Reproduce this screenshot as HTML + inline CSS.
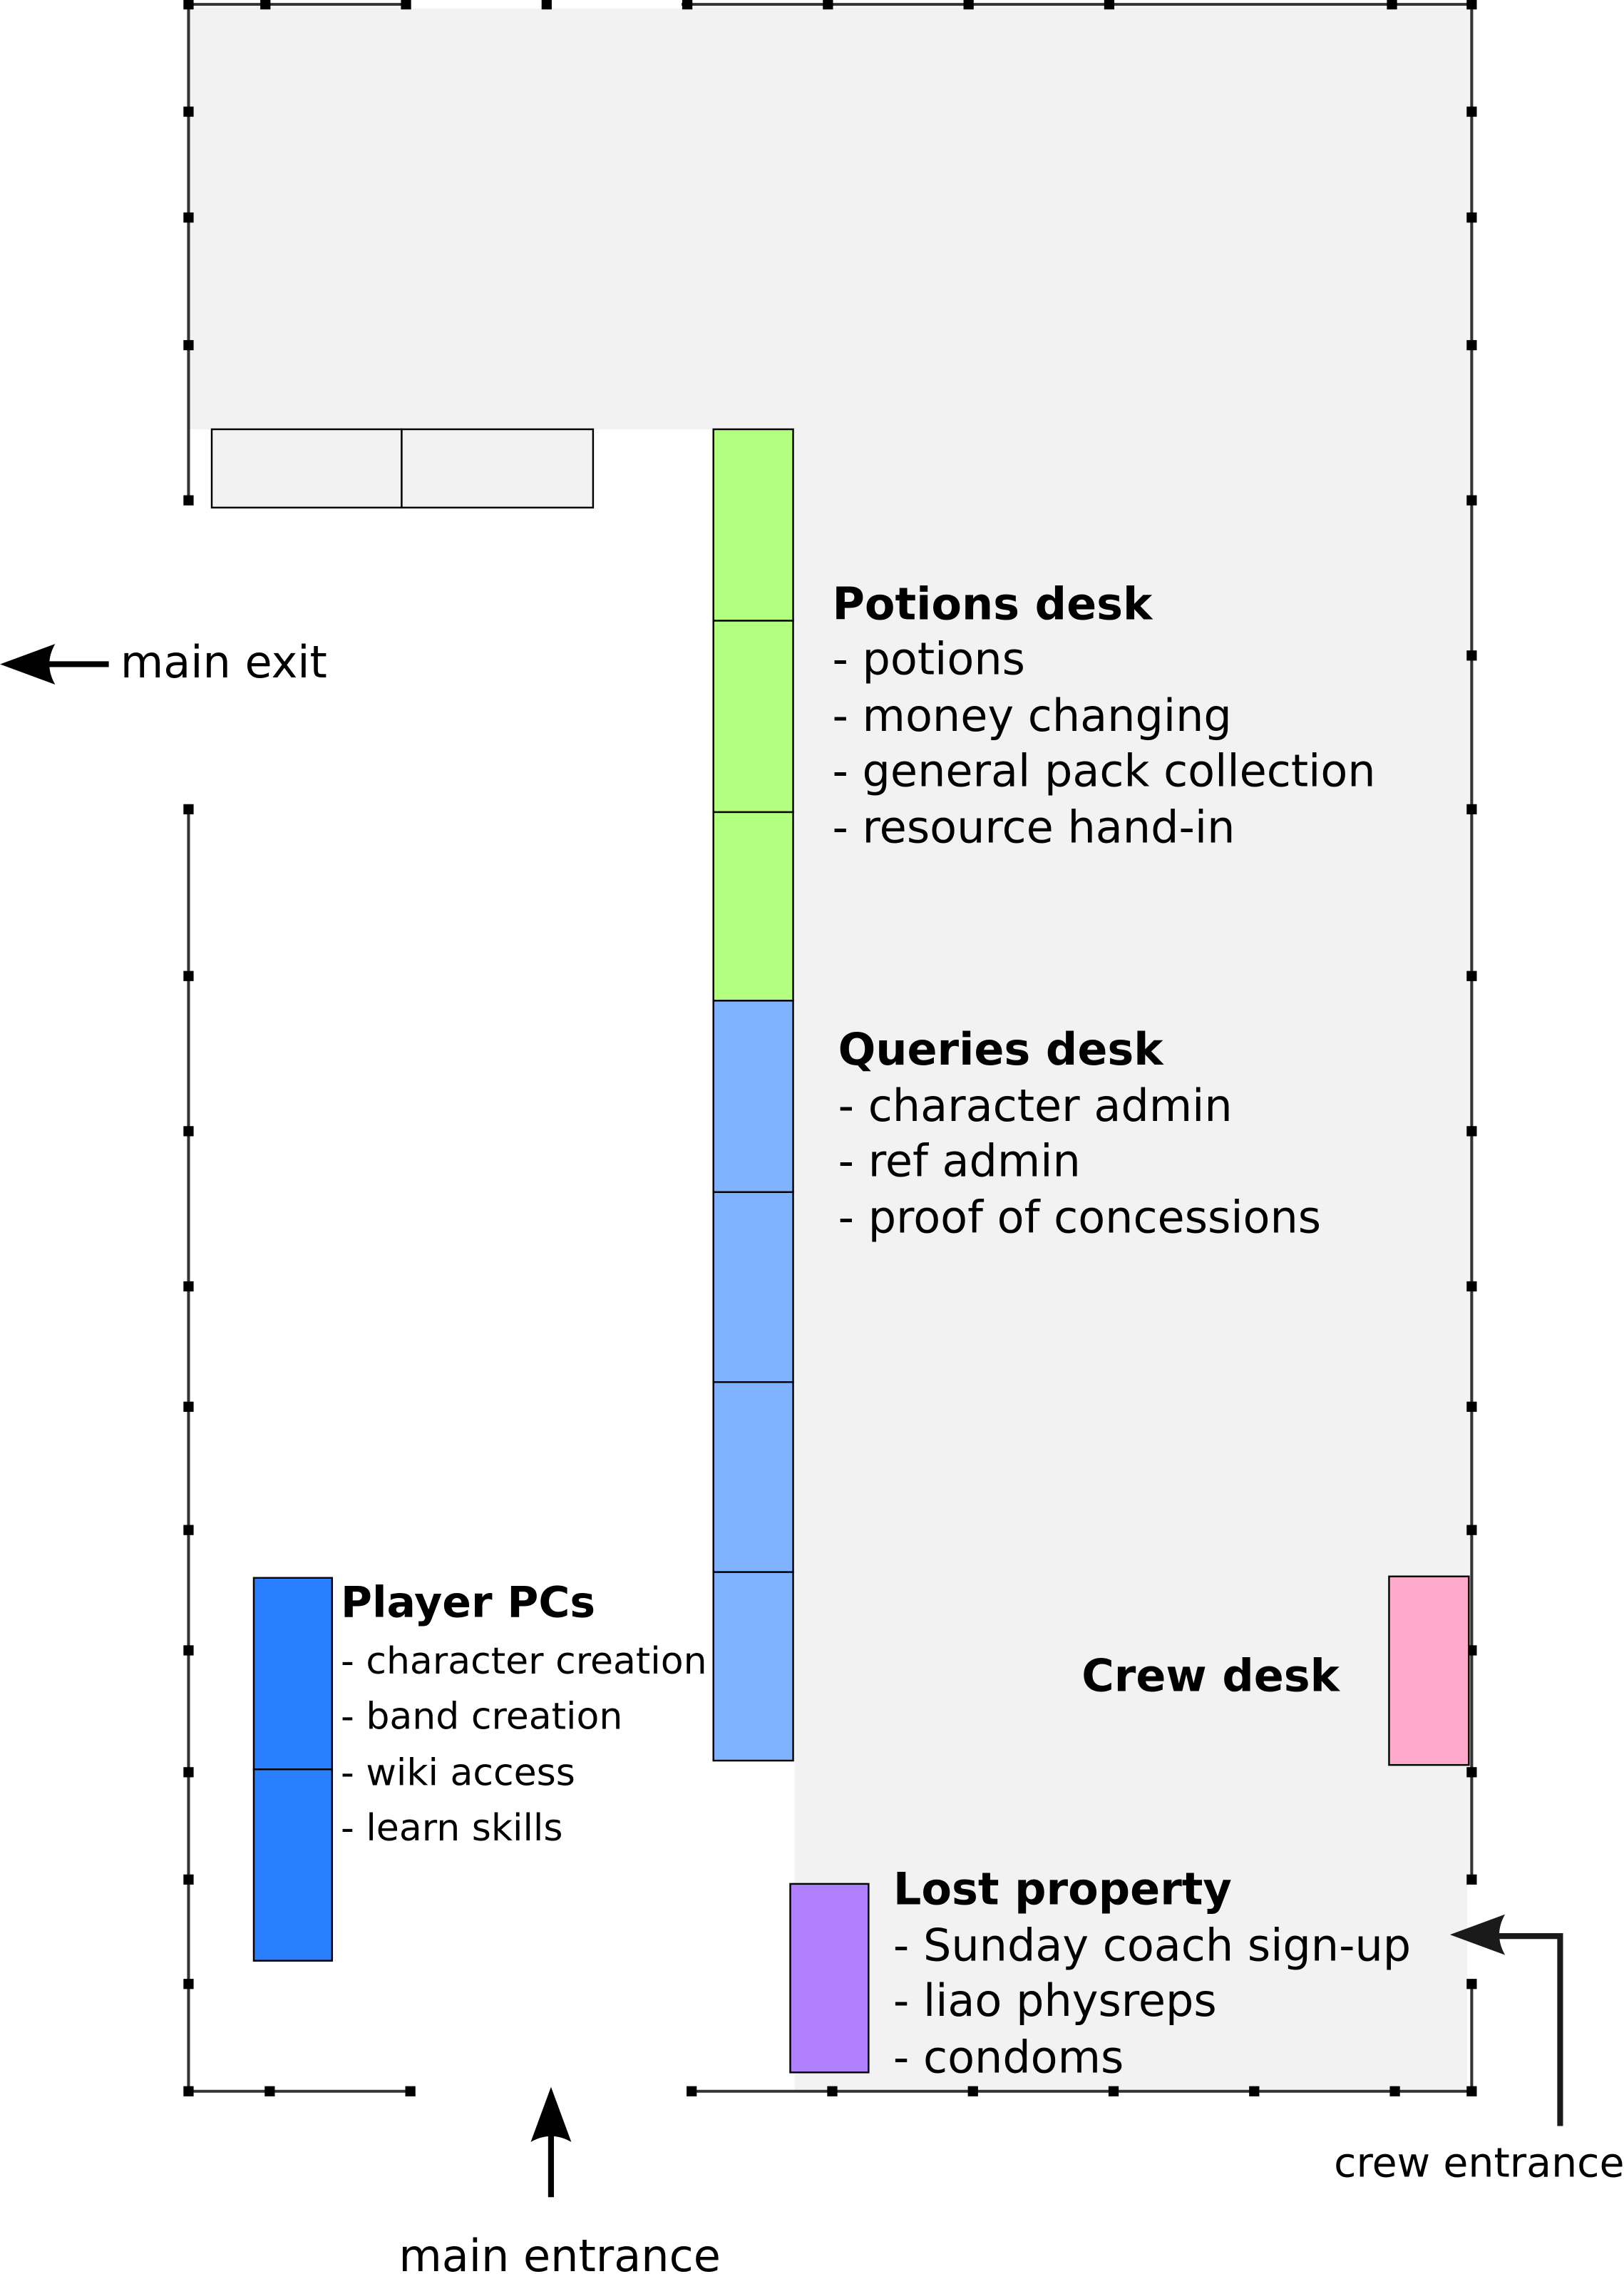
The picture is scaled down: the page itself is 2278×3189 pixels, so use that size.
<!DOCTYPE html>
<html><head><meta charset="utf-8"><style>
html,body{margin:0;padding:0;background:#fff;}
svg{display:block;}
text{font-family:"DejaVu Sans","Liberation Sans",sans-serif;fill:#000;}
</style></head><body>
<svg width="2278" height="3189" viewBox="0 0 1120 1568" xmlns="http://www.w3.org/2000/svg">
<polygon points="130,5 1015,5 1015,1296 1012,1296 1012,1442 548,1442 548,296 130,296" fill="#f2f2f2"/>
<g stroke="#333" stroke-width="2" fill="none">
<path d="M130,3 H1015 V1296 M1015,1368 V1442 H477 M283,1442 H130 V558 M130,345 V3"/>
</g>
<rect x="280" y="1" width="190" height="5" fill="#fff"/>
<g fill="#000">
<rect x="126.5" y="-0.5" width="7" height="7"/><rect x="179.5" y="-0.5" width="7" height="7"/><rect x="276.5" y="-0.5" width="7" height="7"/><rect x="373.5" y="-0.5" width="7" height="7"/><rect x="470.5" y="-0.5" width="7" height="7"/><rect x="567.5" y="-0.5" width="7" height="7"/><rect x="664.5" y="-0.5" width="7" height="7"/><rect x="761.5" y="-0.5" width="7" height="7"/><rect x="956.5" y="-0.5" width="7" height="7"/><rect x="1011.5" y="-0.5" width="7" height="7"/>
<rect x="126.5" y="73.5" width="7" height="7"/><rect x="126.5" y="146.5" width="7" height="7"/><rect x="126.5" y="234.5" width="7" height="7"/><rect x="126.5" y="341.5" width="7" height="7"/>
<rect x="126.5" y="554.5" width="7" height="7"/><rect x="126.5" y="669.5" width="7" height="7"/><rect x="126.5" y="776.5" width="7" height="7"/><rect x="126.5" y="883.5" width="7" height="7"/><rect x="126.5" y="966.5" width="7" height="7"/><rect x="126.5" y="1051.5" width="7" height="7"/><rect x="126.5" y="1134.5" width="7" height="7"/><rect x="126.5" y="1218.5" width="7" height="7"/><rect x="126.5" y="1292.5" width="7" height="7"/><rect x="126.5" y="1364.5" width="7" height="7"/><rect x="126.5" y="1438.5" width="7" height="7"/>
<rect x="1011.5" y="73.5" width="7" height="7"/><rect x="1011.5" y="146.5" width="7" height="7"/><rect x="1011.5" y="234.5" width="7" height="7"/><rect x="1011.5" y="341.5" width="7" height="7"/><rect x="1011.5" y="448.5" width="7" height="7"/><rect x="1011.5" y="554.5" width="7" height="7"/><rect x="1011.5" y="669.5" width="7" height="7"/><rect x="1011.5" y="776.5" width="7" height="7"/><rect x="1011.5" y="883.5" width="7" height="7"/><rect x="1011.5" y="966.5" width="7" height="7"/><rect x="1011.5" y="1051.5" width="7" height="7"/><rect x="1011.5" y="1134.5" width="7" height="7"/><rect x="1011.5" y="1218.5" width="7" height="7"/><rect x="1011.5" y="1292.5" width="7" height="7"/><rect x="1011.5" y="1364.5" width="7" height="7"/><rect x="1011.5" y="1438.5" width="7" height="7"/>
<rect x="182.5" y="1438.5" width="7" height="7"/><rect x="279.5" y="1438.5" width="7" height="7"/><rect x="473.5" y="1438.5" width="7" height="7"/><rect x="570.5" y="1438.5" width="7" height="7"/><rect x="667.5" y="1438.5" width="7" height="7"/><rect x="764.5" y="1438.5" width="7" height="7"/><rect x="861.5" y="1438.5" width="7" height="7"/><rect x="958.5" y="1438.5" width="7" height="7"/>
</g>
<g stroke="#000" stroke-width="1.2">
<rect x="146" y="296" width="131" height="54" fill="#f2f2f2"/>
<rect x="277" y="296" width="132" height="54" fill="#f2f2f2"/>
<rect x="492" y="296" width="55" height="132" fill="#b3ff80"/>
<rect x="492" y="428" width="55" height="132" fill="#b3ff80"/>
<rect x="492" y="560" width="55" height="130" fill="#b3ff80"/>
<rect x="492" y="690" width="55" height="132" fill="#80b3ff"/>
<rect x="492" y="822" width="55" height="131" fill="#80b3ff"/>
<rect x="492" y="953" width="55" height="131" fill="#80b3ff"/>
<rect x="492" y="1084" width="55" height="130" fill="#80b3ff"/>
<rect x="175" y="1088" width="54" height="132" fill="#2a7fff"/>
<rect x="175" y="1220" width="54" height="132" fill="#2a7fff"/>
<rect x="958" y="1087" width="55" height="130" fill="#ffaacc"/>
<rect x="545" y="1299" width="54" height="130" fill="#b080ff"/>
</g>
<g fill="none" stroke="#000" stroke-width="4">
<path d="M75,458 H18"/><path d="M380,1515 V1470"/>
</g>
<path d="M1076,1466 V1335 H1030" fill="none" stroke="#1a1a1a" stroke-width="4"/>
<path d="M0,458 L38,444 Q30,458 38,472 Z" fill="#000"/>
<path d="M380,1439 L366,1477 Q380,1469 394,1477 Z" fill="#000"/>
<path d="M1000,1334 L1038,1320 Q1030,1334 1038,1348 Z" fill="#1a1a1a"/>
<g font-size="30.5">
<text x="83" y="467">main exit</text>
<text x="574" y="427" font-weight="bold">Potions desk</text>
<text x="574" y="465">- potions</text>
<text x="574" y="504">- money changing</text>
<text x="574" y="542">- general pack collection</text>
<text x="574" y="581">- resource hand-in</text>
<text x="578" y="734" font-weight="bold">Queries desk</text>
<text x="578" y="773">- character admin</text>
<text x="578" y="811">- ref admin</text>
<text x="578" y="850">- proof of concessions</text>
<text x="746" y="1166" font-weight="bold">Crew desk</text>
<text x="616" y="1313" font-weight="bold">Lost property</text>
<text x="616" y="1352">- Sunday coach sign-up</text>
<text x="616" y="1390">- liao physreps</text>
<text x="616" y="1429">- condoms</text>
<text x="275" y="1566">main entrance</text>
</g>
<g font-size="25.6">
<text x="235" y="1115" font-size="29.5" font-weight="bold">Player PCs</text>
<text x="235" y="1154">- character creation</text>
<text x="235" y="1192">- band creation</text>
<text x="235" y="1231">- wiki access</text>
<text x="235" y="1269">- learn skills</text>
<text x="920" y="1501" font-size="28">crew entrance</text>
</g>
</svg>
</body></html>
